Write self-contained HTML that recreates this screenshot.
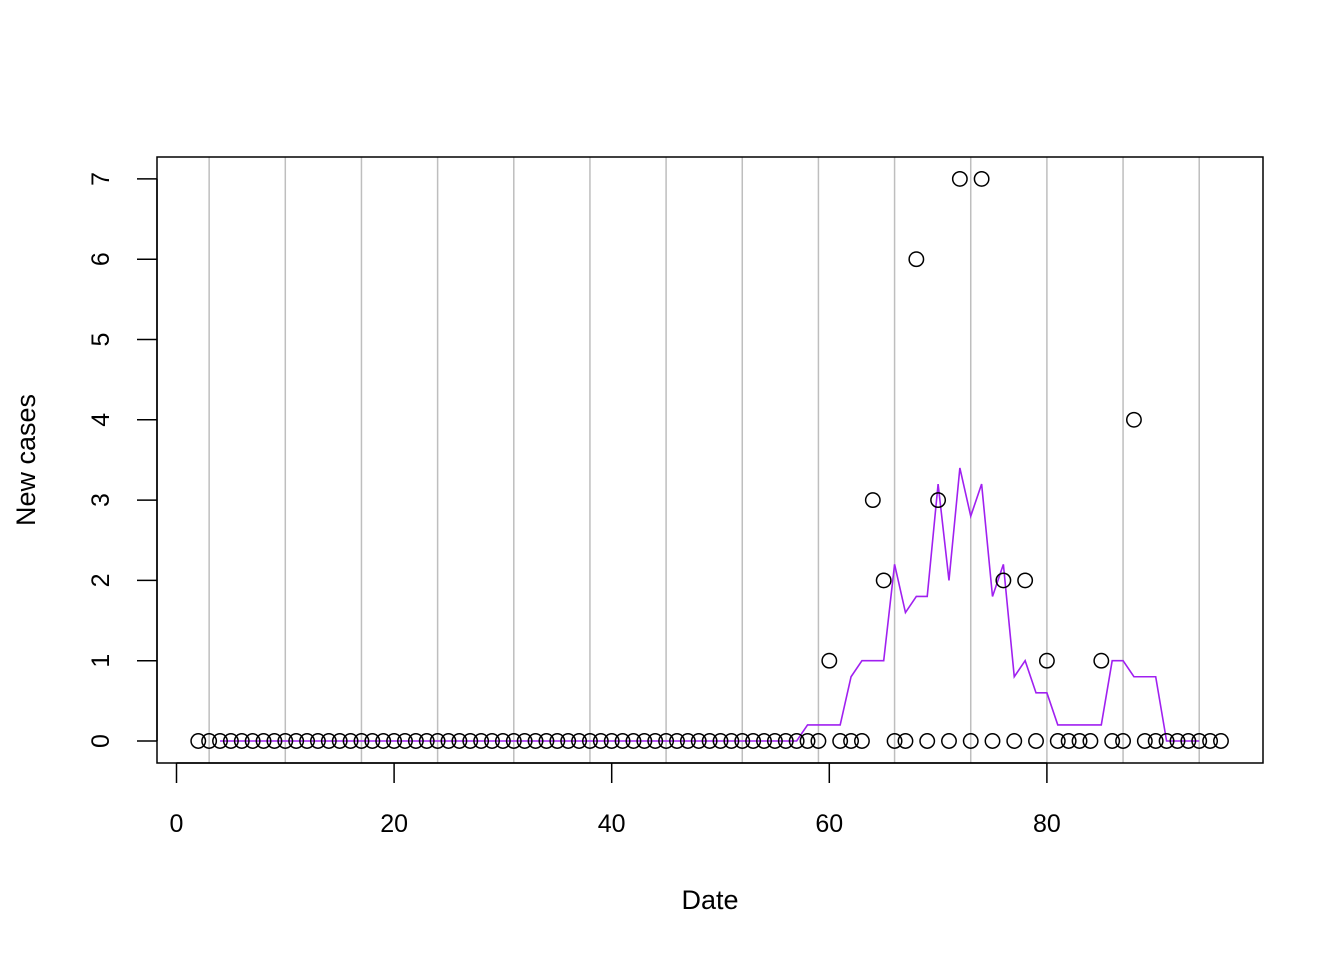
<!DOCTYPE html>
<html><head><meta charset="utf-8"><style>body{margin:0;background:#fff}svg{display:block;font-family:"Liberation Sans",Arial,sans-serif}</style></head>
<body>
<svg id="chart" width="1344" height="960" viewBox="0 0 1344 960"></svg>
<script>
const days = [];
for (let d = 2; d <= 96; d++) days.push(d);
const caseDays = [60,64,65,68,70,72,74,76,78,80,85,88];
const caseValues = [1,3,2,6,3,7,7,2,2,1,1,4];
const avgDays = [];
for (let d = 4; d <= 94; d++) avgDays.push(d);
const avgNonzeroDays = [58,59,60,61,62,63,64,65,66,67,68,69,70,71,72,73,74,75,76,77,78,79,80,81,82,83,84,85,86,87,88,89,90];
const avgNonzeroValues = [0.2,0.2,0.2,0.2,0.8,1,1,1,2.2,1.6,1.8,1.8,3.2,2,3.4,2.8,3.2,1.8,2.2,0.8,1,0.6,0.6,0.2,0.2,0.2,0.2,0.2,1,1,0.8,0.8,0.8];
const gridDays = [3,10,17,24,31,38,45,52,59,66,73,80,87,94];
const xTicks = [0,20,40,60,80];
const yTicks = [0,1,2,3,4,5,6,7];

const NS = "http://www.w3.org/2000/svg";
const svg = document.getElementById('chart');
const X = v => 176.5 + v * 10.88;
const Y = v => 741 - v * 80.3;
function mk(tag, attrs, parent) {
  const e = document.createElementNS(NS, tag);
  for (const k in attrs) e.setAttribute(k, attrs[k]);
  (parent || svg).appendChild(e);
  return e;
}
const grid = mk('g', {});


gridDays.forEach(d => {
  const l = mk('line', {x1: X(d), x2: X(d), y1: 157, y2: 763, stroke: '#bebebe', 'stroke-width': 1.5}, grid);
  
  
});
const box = mk('rect', {x: 157, y: 157, width: 1106, height: 606, fill: 'none', stroke: '#000', 'stroke-width': 1.5});



// x axis
const xa = mk('g', {});


mk('line', {x1: X(0), x2: X(80), y1: 763, y2: 763, stroke: '#000', 'stroke-width': 1.5}, xa);
xTicks.forEach(t => {
  mk('line', {x1: X(t), x2: X(t), y1: 763, y2: 783, stroke: '#000', 'stroke-width': 1.5}, xa);
  const tx = mk('text', {x: X(t), y: 832, 'text-anchor': 'middle', 'font-size': 25}, xa);
  tx.textContent = t;
  
  
});
// y axis
const ya = mk('g', {});


mk('line', {x1: 157, x2: 157, y1: Y(0), y2: Y(7), stroke: '#000', 'stroke-width': 1.5}, ya);
yTicks.forEach(t => {
  mk('line', {x1: 137, x2: 157, y1: Y(t), y2: Y(t), stroke: '#000', 'stroke-width': 1.5}, ya);
  const tx = mk('text', {x: 0, y: 0, transform: `translate(109,${Y(t)}) rotate(-90)`, 'text-anchor': 'middle', 'font-size': 25}, ya);
  tx.textContent = t;
  
  
});
const xt = mk('text', {x: 710, y: 909, 'text-anchor': 'middle', 'font-size': 27});
xt.textContent = 'Date';


const yt = mk('text', {x: 0, y: 0, transform: 'translate(35,460) rotate(-90)', 'text-anchor': 'middle', 'font-size': 27});
yt.textContent = 'New cases';



// moving average line
const pts = avgDays.map(d => {
  const i = avgNonzeroDays.indexOf(d);
  const v = i >= 0 ? avgNonzeroValues[i] : 0;
  return X(d) + ',' + Y(v);
}).join(' ');
const line = mk('polyline', {points: pts, fill: 'none', stroke: '#a020f0', 'stroke-width': 1.6});



// points
const pg = mk('g', {});


days.forEach(d => {
  const i = caseDays.indexOf(d);
  const v = i >= 0 ? caseValues[i] : 0;
  const c = mk('circle', {cx: X(d), cy: Y(v), r: 7.2, fill: 'none', stroke: '#000', 'stroke-width': 1.5}, pg);
  
  
});
</script>
</body></html>
